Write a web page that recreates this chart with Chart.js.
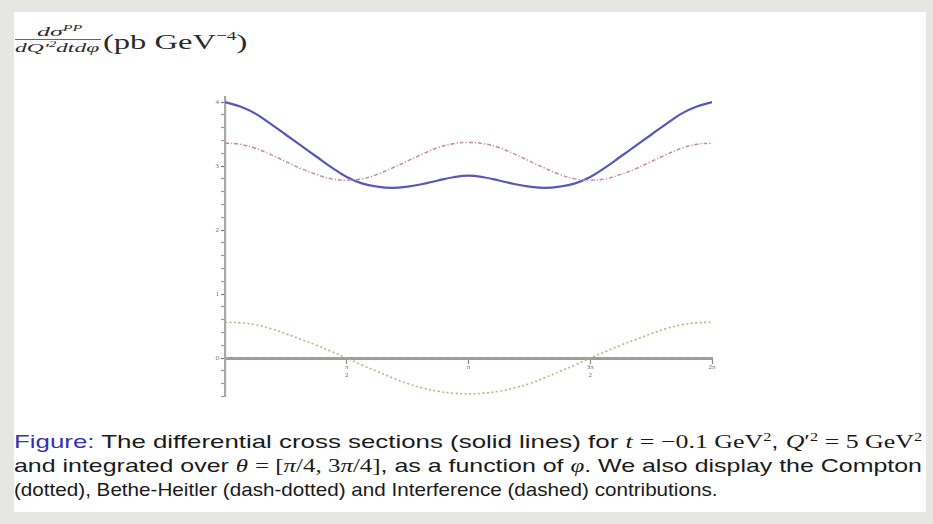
<!DOCTYPE html>
<html>
<head>
<meta charset="utf-8">
<script src="https://cdn.jsdelivr.net/npm/chart.js"></script>
<style>
  html, body { margin: 0; padding: 0; }
  body { width: 933px; height: 524px; background: #e6e6e3; position: relative; overflow: hidden; }
  #panel { position: absolute; left: 14px; top: 12px; width: 912px; height: 500px; background: #ffffff; }
  .serif { font-family: "Liberation Serif", "DejaVu Serif", serif; }
  .fit { position: absolute; white-space: nowrap; transform-origin: 0 0; }
  .t { color: #2a2a2a; }
  .ti { font-style: italic; font-size: 13px; line-height: 13px; }
  .ti sup { font-size: 8px; vertical-align: 5px; line-height: 0; }
  #bar { position: absolute; left: 15px; top: 39px; width: 86px; height: 1px; background: #666; }
  #unit { font-size: 22px; line-height: 22px; }
  #unit sup { font-size: 13px; vertical-align: 9px; line-height: 0; }
  #chartBox { position: absolute; left: 190px; top: 85px; width: 540px; height: 320px; }
  .cap { left: 14px; font-family: "Liberation Sans", "DejaVu Sans", sans-serif; font-size: 19px; line-height: 24px; color: #1a1a1a; }
  .cap .hl { color: #3333b3; }
  .cap .m { font-family: "Liberation Serif", "DejaVu Serif", serif; }
  .cap .mi { font-family: "Liberation Serif", "DejaVu Serif", serif; font-style: italic; }
  .cap sup { font-size: 12px; vertical-align: 7px; line-height: 0; }
</style>
</head>
<body>
<div id="panel"></div>

<div class="fit serif t ti" data-w="46" style="left:37px; top:25px;">dσ<sup>PP</sup></div>
<div id="bar"></div>
<div class="fit serif t ti" data-w="85" style="left:15px; top:41px;">dQ′<sup>2</sup>dtdφ</div>
<div id="unit" class="fit serif t" data-w="145" style="left:103px; top:31px;">(pb GeV<sup>−4</sup>)</div>

<div id="chartBox"><canvas id="c" width="540" height="320"></canvas></div>

<div class="fit cap" data-w="908" style="top:430px;"><span class="hl">Figure:</span> The differential cross sections (solid lines) for <span class="mi">t</span> <span class="m">= −0.1 GeV<sup>2</sup></span>, <span class="mi">Q</span><span class="m">′<sup>2</sup> = 5 GeV<sup>2</sup></span></div>
<div class="fit cap" data-w="908" style="top:454px;">and integrated over <span class="mi">θ</span> <span class="m">= [<i>π</i>/4, 3<i>π</i>/4]</span>, as a function of <span class="mi">φ</span>. We also display the Compton</div>
<div class="fit cap" data-w="703" style="top:478px;">(dotted), Bethe-Heitler (dash-dotted) and Interference (dashed) contributions.</div>

<script>
// Azimuthal angle φ, in units of π (steps of π/16)
const phi = [0, 0.0625, 0.125, 0.1875, 0.25, 0.3125, 0.375, 0.4375, 0.5,
             0.5625, 0.625, 0.6875, 0.75, 0.8125, 0.875, 0.9375, 1,
             1.0625, 1.125, 1.1875, 1.25, 1.3125, 1.375, 1.4375, 1.5,
             1.5625, 1.625, 1.6875, 1.75, 1.8125, 1.875, 1.9375, 2];

// Total differential cross section (solid)
const totalXs = [4.00, 3.93, 3.82, 3.66, 3.49, 3.32, 3.15, 2.98, 2.83,
                 2.73, 2.68, 2.66, 2.68, 2.72, 2.775, 2.825, 2.85,
                 2.825, 2.775, 2.72, 2.68, 2.66, 2.68, 2.73, 2.83,
                 2.98, 3.15, 3.32, 3.49, 3.66, 3.82, 3.93, 4.00];

// Bethe-Heitler contribution (dash-dotted)
const betheHeitler = [3.36, 3.34, 3.28, 3.18, 3.07, 2.96, 2.87, 2.80, 2.78,
                      2.80, 2.87, 2.97, 3.08, 3.19, 3.29, 3.35, 3.37,
                      3.35, 3.29, 3.19, 3.08, 2.97, 2.87, 2.80, 2.78,
                      2.80, 2.87, 2.96, 3.07, 3.18, 3.28, 3.34, 3.36];

// Interference contribution (dotted, olive)
const interference = [0.56, 0.55, 0.52, 0.46, 0.38, 0.29, 0.20, 0.10, 0.00,
                      -0.11, -0.21, -0.31, -0.40, -0.47, -0.52, -0.55, -0.56,
                      -0.55, -0.52, -0.47, -0.40, -0.31, -0.21, -0.11, 0.00,
                      0.10, 0.20, 0.29, 0.38, 0.46, 0.52, 0.55, 0.56];

// Compton contribution (dashed, negligible)
const compton = phi.map(() => 0);

// Axis tick labels
const xTickValues = [0.5, 1, 1.5, 2];
const xTickLabels = [["π", "2"], "π", ["3π", "2"], "2π"];
const yTickLabels = ["0", "1", "2", "3", "4"];

function pts(ys) { return phi.map((x, i) => ({ x: x, y: ys[i] })); }

new Chart(document.getElementById('c'), {
  type: 'line',
  data: {
    datasets: [
      { data: pts(compton), borderColor: '#8cbc86', borderWidth: 1.2, borderDash: [5, 3], pointRadius: 0, tension: 0.4 },
      { data: pts(interference), borderColor: '#bcb57a', borderWidth: 1.6, borderDash: [2, 2.5], pointRadius: 0, tension: 0.4 },
      { data: pts(betheHeitler), borderColor: '#c68a9c', borderWidth: 1.5, borderDash: [4, 2, 1.2, 2], pointRadius: 0, tension: 0.4 },
      { data: pts(totalXs), borderColor: '#5757b9', borderWidth: 2.2, pointRadius: 0, tension: 0.4 }
    ]
  },
  options: {
    responsive: false,
    animation: false,
    devicePixelRatio: 1,
    layout: { padding: { top: 12, right: 18, bottom: 8.6, left: 0 } },
    plugins: { legend: { display: false }, tooltip: { enabled: false } },
    scales: {
      x: {
        type: 'linear',
        min: 0, max: 2,
        position: { y: 0 },
        afterBuildTicks: s => { s.ticks = xTickValues.map(v => ({ value: v })); },
        ticks: {
          autoSkip: false, maxRotation: 0, padding: 1,
          font: { size: 7, family: 'Liberation Serif' }, color: '#6a6a80',
          callback: (v, i) => xTickLabels[i]
        },
        grid: { drawOnChartArea: false, tickLength: 4, color: '#888', tickWidth: 1.2 },
        border: { color: '#9a9a9a', width: 3 }
      },
      y: {
        min: -0.6, max: 4.08,
        afterFit: s => { s.width = 35; },
        afterBuildTicks: s => {
          const t = [];
          for (let k = -3; k <= 20; k++) t.push({ value: k / 5 });
          s.ticks = t;
        },
        ticks: {
          autoSkip: false, padding: 2,
          font: { size: 7, family: 'Liberation Serif' }, color: '#6a6a80',
          callback: v => {
            const r = Math.round(v);
            return (Math.abs(v - r) < 1e-6 && r >= 0) ? yTickLabels[r] : '';
          }
        },
        grid: {
          drawOnChartArea: false, tickLength: 4, tickWidth: 1.2,
          tickColor: ctx => (ctx.tick && Math.abs(ctx.tick.value - Math.round(ctx.tick.value)) < 1e-6) ? '#777' : '#9a9a9a'
        },
        border: { color: '#a8a8a8', width: 2.2 }
      }
    }
  }
});

// Stretch or squeeze each text block to its measured width
document.querySelectorAll('.fit[data-w]').forEach(el => {
  const target = parseFloat(el.dataset.w);
  const w = el.scrollWidth;
  el.style.transform = 'scaleX(' + (target / w) + ')';
});
</script>
</body>
</html>
